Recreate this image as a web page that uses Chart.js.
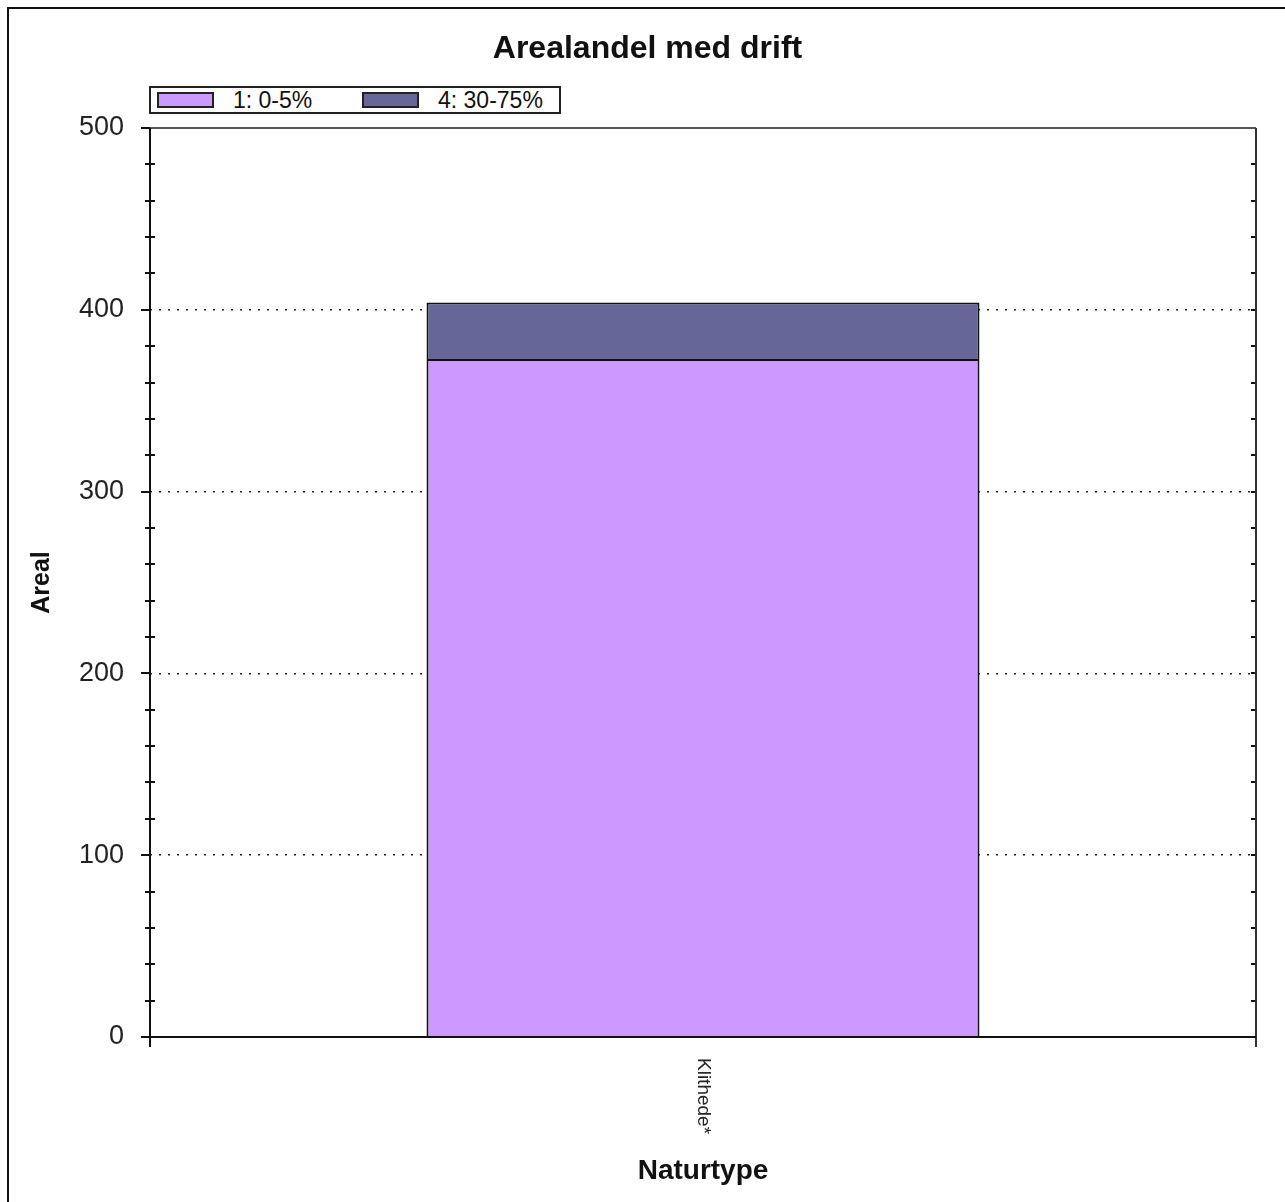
<!DOCTYPE html>
<html>
<head>
<meta charset="utf-8">
<script src="https://cdn.jsdelivr.net/npm/chart.js@4.4.0/dist/chart.umd.min.js"></script>
<style>
body{margin:0;background:#fff;overflow:hidden;font-family:"Liberation Sans",Arial,sans-serif}
#ramme{position:absolute;left:7px;top:7px;width:1400px;height:1400px;border-left:2px solid #111;border-top:2px solid #111}
#boks{position:absolute;left:0;top:0;width:1285px;height:1202px}
#forklaring{position:absolute;left:149px;top:86px;width:408px;height:24px;border:2px solid #222;background:#fff;white-space:nowrap}
.post{display:inline-block;width:205px;height:24px;line-height:24px;font-size:23px;color:#111;vertical-align:top}
.farge{display:inline-block;width:53px;height:12px;border:2px solid #222;margin-left:6px;margin-right:19px;vertical-align:middle;position:relative;top:-2px}
</style>
</head>
<body>
<div id="ramme"></div>
<div id="boks"><canvas id="grafico" width="1285" height="1202"></canvas></div>
<div id="forklaring"></div>
<script>
// data lest av bildet
var kategorier = ['Klithede*'];
var serieNavn = ['1: 0-5%', '4: 30-75%'];
var andel1 = [373];   // 1: 0-5%
var andel4 = [31];    // 4: 30-75%
var farger = ['#CC99FF', '#666699'];
var yTicks = [0, 100, 200, 300, 400, 500];
var yMaks = 500;
var minorSteg = 20;

// forklaring (legend) som html
var leg = document.getElementById('forklaring');
for (var i = 0; i < serieNavn.length; i++) {
    var p = document.createElement('span');
    p.className = 'post';
    p.innerHTML = '<span class="farge" style="background:' + farger[i] + '"></span>' + serieNavn[i];
    leg.appendChild(p);
}

// akser, små ticks og ramme rundt plottet
var rammePlugin = {
    id: 'ramme',
    afterDatasetsDraw: function(chart) {
        var ctx = chart.ctx, a = chart.chartArea;
        var y = chart.scales.y, x = chart.scales.x;
        ctx.save();
        ctx.lineWidth = 2;
        ctx.strokeStyle = '#111';
        for (var v = 0; v <= yMaks; v += minorSteg) {
            var py = Math.round(y.getPixelForValue(v));
            ctx.beginPath();
            if (yTicks.indexOf(v) >= 0) {
                ctx.moveTo(a.left - 9, py); ctx.lineTo(a.left, py);
            } else {
                ctx.moveTo(a.left - 5, py); ctx.lineTo(a.left + 5, py);
            }
            ctx.moveTo(a.right - 5, py); ctx.lineTo(a.right, py);
            ctx.stroke();
        }
        // topp og høyre
        ctx.strokeStyle = '#555';
        ctx.beginPath();
        ctx.moveTo(a.left, a.top); ctx.lineTo(a.right, a.top);
        ctx.stroke();
        ctx.strokeStyle = '#333';
        ctx.beginPath();
        ctx.moveTo(a.right, a.top); ctx.lineTo(a.right, a.bottom + 10);
        ctx.stroke();
        // venstre og bunn
        ctx.strokeStyle = '#111';
        ctx.beginPath();
        ctx.moveTo(a.left, a.top); ctx.lineTo(a.left, a.bottom + 10);
        ctx.moveTo(a.left - 9, a.bottom); ctx.lineTo(a.right, a.bottom);
        ctx.stroke();
        // kategori-etikett, rotert med klokka
        ctx.fillStyle = '#222';
        ctx.font = '19px "Liberation Sans", Arial, sans-serif';
        ctx.textAlign = 'left';
        ctx.textBaseline = 'middle';
        for (var k = 0; k < kategorier.length; k++) {
            var px = x.getPixelForValue(k);
            ctx.save();
            ctx.translate(px, a.bottom + 21);
            ctx.rotate(Math.PI / 2);
            ctx.fillText(kategorier[k], 0, 0);
            ctx.restore();
        }
        ctx.restore();
    }
};

var ctx = document.getElementById('grafico');
var chart = new Chart(ctx, {
    type: 'bar',
    data: {
        labels: kategorier,
        datasets: [{
            label: serieNavn[0],
            data: andel1,
            backgroundColor: farger[0],
            borderColor: '#111',
            borderWidth: 2,
            categoryPercentage: 0.5,
            barPercentage: 1
        }, {
            label: serieNavn[1],
            data: andel4,
            backgroundColor: farger[1],
            borderColor: '#111',
            borderWidth: 2,
            categoryPercentage: 0.5,
            barPercentage: 1
        }]
    },
    options: {
        responsive: false,
        animation: false,
        layout: { padding: { left: 10, right: 0, top: 0, bottom: 0 } },
        plugins: {
            legend: { display: false },
            tooltip: { enabled: false },
            title: {
                display: true,
                text: 'Arealandel med drift',
                color: '#111',
                font: { family: '"Liberation Sans", Arial, sans-serif', size: 32, weight: 'bold' },
                padding: { top: 30, bottom: 59.6 }
            }
        },
        scales: {
            x: {
                stacked: true,
                ticks: { display: false },
                grid: { display: false },
                border: { display: false },
                afterFit: function(s) { s.height = 165; },
                title: {
                    display: true,
                    text: 'Naturtype',
                    color: '#111',
                    font: { family: '"Liberation Sans", Arial, sans-serif', size: 28, weight: 'bold' },
                    padding: { top: 0, bottom: 14 }
                }
            },
            y: {
                stacked: true,
                min: 0,
                max: yMaks,
                afterBuildTicks: function(s) { s.ticks = yTicks.map(function(v) { return { value: v }; }); },
                ticks: {
                    padding: 26,
                    color: '#222',
                    font: { family: '"Liberation Sans", Arial, sans-serif', size: 27 }
                },
                grid: {
                    drawTicks: false,
                    lineWidth: 1.5,
                    color: function(c) {
                        var v = c.tick ? c.tick.value : 0;
                        return (v === 0 || v === yMaks) ? 'rgba(0,0,0,0)' : '#222';
                    }
                },
                border: { display: false, dash: [2, 7] },
                afterFit: function(s) { s.width = 140; },
                title: {
                    display: true,
                    text: 'Areal',
                    color: '#111',
                    font: { family: '"Liberation Sans", Arial, sans-serif', size: 25, weight: 'bold' },
                    padding: { top: 17, bottom: 0 }
                }
            },
            // tom akse til høyre, bare for plass
            hoyre: {
                position: 'right',
                display: true,
                ticks: { display: false },
                grid: { display: false },
                border: { display: false },
                afterFit: function(s) { s.width = 29; }
            }
        }
    },
    plugins: [rammePlugin]
});
</script>
</body>
</html>
